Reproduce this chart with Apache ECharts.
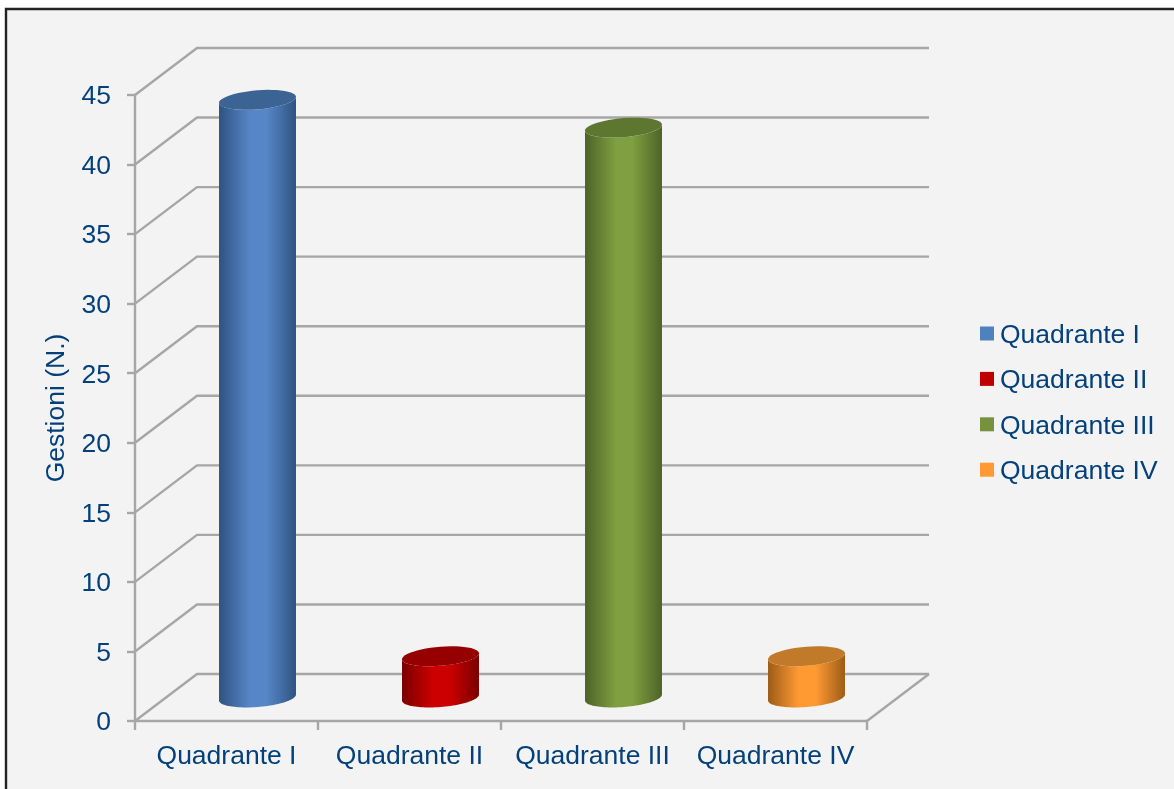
<!DOCTYPE html>
<html><head><meta charset="utf-8">
<style>html,body{margin:0;padding:0;background:#fff}#c{width:1174px;height:789px}</style>
<script src="https://cdn.jsdelivr.net/npm/echarts@6/dist/echarts.min.js"></script>
</head><body><div id="c"></div>
<script>
const categories = ['Quadrante I','Quadrante II','Quadrante III','Quadrante IV'];
const values = [43,3,41,3];
const wallTicks = [0,5,10,15,20,25,30,35,40,45];
const bodyDark = ['#2f5380','#7a0000','#4d6327','#9c5c17'];
const bodyLight = ['#5686c8','#cc0000','#7f9f40','#ff9a33'];
const capColor = ['#3b6494','#960000','#5e7730','#c17a2a'];
const legendColor = ['#4f81bd','#c00000','#76923c','#ff9933'];

const DX = 62, DY = 47, RX = 38.6, RY = 9.5, TILT = -4.7 * Math.PI / 180;
const ink = '#03407c', grey = '#a6a6a6', fontName = 'Liberation Sans', fontPx = 26.5;
const chart = echarts.init(document.getElementById('c'), null, {renderer:'canvas'});
const lowered = {a:{color:ink,fontSize:fontPx,fontFamily:fontName,padding:[4,0,0,0]}};

function ellipsePts(cx, cy, from, to){
  const pts = [], cos = Math.cos(TILT), sin = Math.sin(TILT);
  const t0 = Math.atan2(-RY * sin, RX * cos);
  for (let i = 0; i <= 48; i++){
    const t = t0 + from + (to - from) * i / 48;
    const x = RX * Math.cos(t), y = RY * Math.sin(t);
    pts.push([cx + x * cos - y * sin, cy + x * sin + y * cos]);
  }
  return pts;
}
const renderWalls = (p, api) => {
  const v = api.value(0), cs = p.coordSys, left = cs.x, right = cs.x + cs.width;
  const y = api.coord([0, v])[1];
  const style = {stroke:grey, lineWidth:2.4, fill:null};
  const kids = [{type:'polyline', shape:{points:[[left,y],[left+DX,y-DY],[right+DX,y-DY]]}, style}];
  if (v === 0) kids.push({type:'line', shape:{x1:right,y1:y,x2:right+DX,y2:y-DY}, style});
  return {type:'group', children:kids};
};
const renderCyl = i => (p, api) => {
  const base = api.coord([api.value(0), 0]), top = api.coord([api.value(0), api.value(1)]);
  const cx = base[0] + DX/2, by = base[1] - DY/2, ty = top[1] - DY/2 + 0.5;
  const lower = ellipsePts(cx, by, Math.PI, 0);
  const upper = ellipsePts(cx, ty, 0, Math.PI);
  const body = lower.concat(upper);
  const grad = new echarts.graphic.LinearGradient(0,0,1,0,[
    {offset:0,color:bodyDark[i]},{offset:0.4,color:bodyLight[i]},
    {offset:0.62,color:bodyLight[i]},{offset:1,color:bodyDark[i]}]);
  return {type:'group', children:[
    {type:'polygon', shape:{points:body}, style:{fill:grad}},
    {type:'polygon', shape:{points:ellipsePts(cx, ty, 0, Math.PI*2)}, style:{fill:capColor[i]}}
  ]};
};
const series = [{
  type:'custom', name:'walls', silent:true, z:1, renderItem:renderWalls,
  encode:{x:-1,y:0}, data:wallTicks.map(v=>[v])
}];
categories.forEach((c,i)=>series.push({
  type:'custom', name:c, z:3, renderItem:renderCyl(i), itemStyle:{color:legendColor[i]},
  encode:{x:0,y:1}, data:[[i,values[i]]]
}));
chart.setOption({
  animation:false,
  backgroundColor:'#fff',
  graphic:[{type:'rect', z:-10, shape:{x:6,y:9,width:1200,height:800},
    style:{fill:'#f3f3f3',stroke:'#222',lineWidth:2.4}}],
  grid:{left:135,top:95,width:732,height:626},
  legend:{data:categories, orient:'vertical', left:980, top:322, padding:0, icon:'rect',
    itemWidth:14, itemHeight:14, itemGap:18.4, selectedMode:false,
    formatter:'{a|{name}}',
    textStyle:{color:ink,fontSize:fontPx,fontFamily:fontName,padding:[0,0,0,1],rich:lowered}},
  xAxis:{type:'category',data:categories,
    axisLine:{lineStyle:{color:grey,width:2.4}},
    axisTick:{show:true,length:9,lineStyle:{color:grey,width:2.4}},
    axisLabel:{color:ink,fontSize:fontPx,fontFamily:fontName,margin:22,interval:0,hideOverlap:false}},
  yAxis:{type:'value',min:0,max:45,interval:5,
    name:'Gestioni (N.)',nameLocation:'middle',nameGap:59,nameRotate:90,
    nameTextStyle:{color:ink,fontSize:fontPx,fontFamily:fontName},
    axisLine:{show:true,lineStyle:{color:grey,width:2.4}},
    axisTick:{show:true,length:8,lineStyle:{color:grey,width:2.4}},
    splitLine:{show:false},
    axisLabel:{formatter:'{a|{value}}',rich:lowered,color:ink,fontSize:fontPx,fontFamily:fontName,margin:24}},
  series
});
</script></body></html>
